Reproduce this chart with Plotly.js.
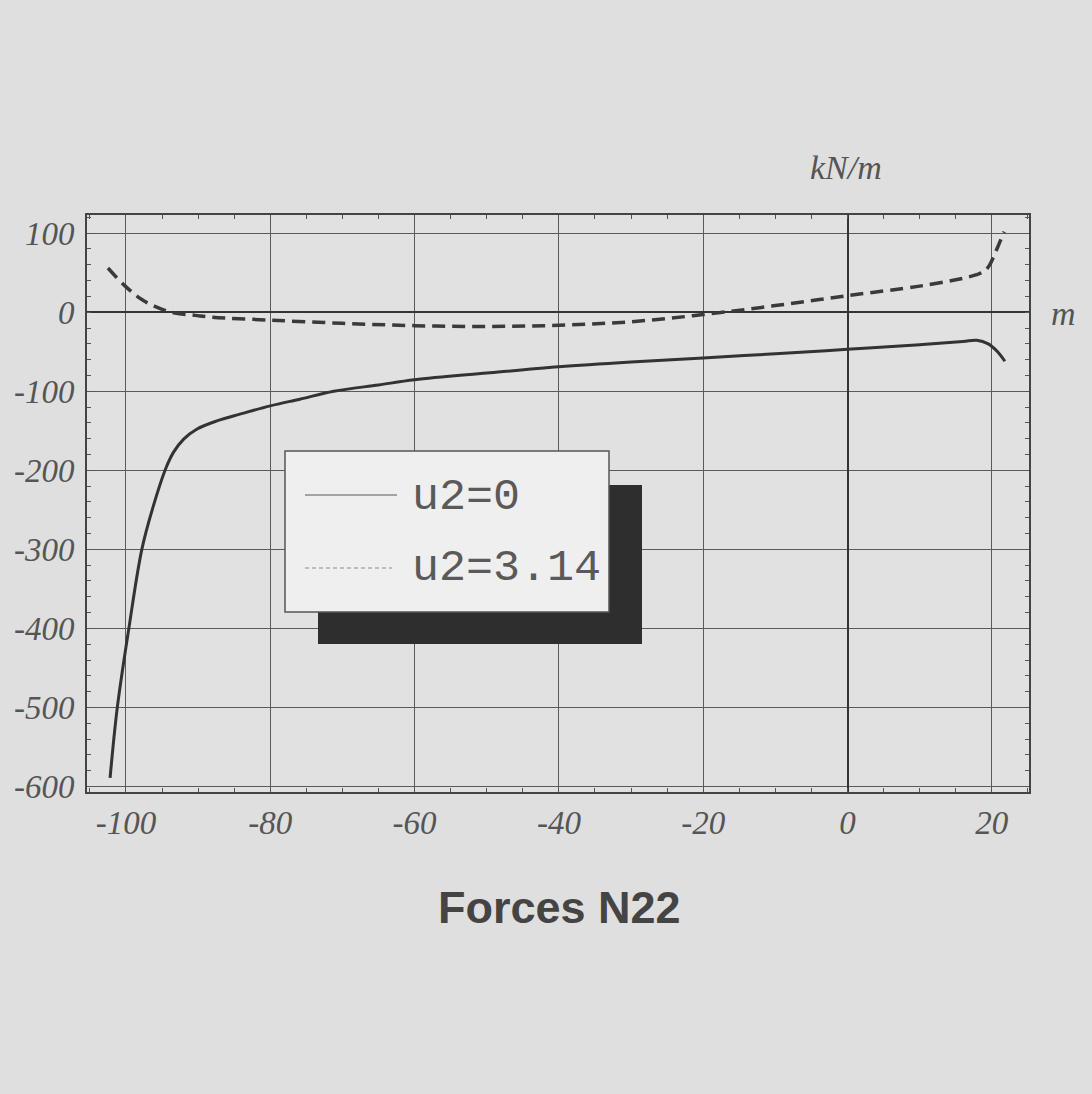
<!DOCTYPE html>
<html>
<head>
<meta charset="utf-8">
<script src="https://cdn.plot.ly/plotly-3.0.1.min.js"></script>
<style>
html,body{margin:0;padding:0;background:#dfdfdf;}
#chart{width:1092px;height:1094px;}
</style>
</head>
<body>
<div id="chart"></div>
<script>
// Series u2=0 (solid)
const xSolid = [-102.2, -101.2, -99.6, -97.8, -96.2, -94.5, -93.4, -92.0, -90.2, -87.4, -84.2, -80, -75.9, -71.2, -65, -60, -50, -40, -30, -20, -10, 0, 10, 16, 17.9, 19.5, 20.8, 21.8];
const ySolid = [-589, -500, -400, -300, -245, -198, -177, -160.5, -148, -137.5, -129, -118.5, -110, -100, -92, -85.5, -77, -69, -63, -58, -52.5, -47, -41, -37, -35.5, -40, -50, -62];
// Series u2=3.14 (dashed)
const xDash = [-102.5, -100.1, -97.8, -95.5, -93.2, -90.4, -88.1, -80, -70, -60, -50, -40, -30, -20, -10, 0, 10, 15, 17.9, 19.0, 19.7, 20.7, 21.7];
const yDash = [56, 33, 16, 5.5, -1, -4, -6.3, -10, -14, -17, -18, -16.5, -12, -3, 8.4, 21, 33, 41, 47.5, 52, 60, 80, 102];
// Tick values and labels
const xTicks = [-100, -80, -60, -40, -20, 0, 20];
const yTicks = [-600, -500, -400, -300, -200, -100, 0, 100];
const seriesNames = ["u2=0", "u2=3.14"];
const titleText = "Forces N22";
const yUnit = "kN/m";
const xUnit = "m";

const W = 1092, H = 1094;
const M = {l: 87, r: 63, t: 215, b: 302};
const pw = W - M.l - M.r, ph = H - M.t - M.b;
const px = v => (v - M.l) / pw;           // pixel x -> paper
const py = v => (H - M.b - v) / ph;       // pixel y -> paper

const tickFont = {family: "Liberation Serif", size: 33, color: "#555", style: "italic"};

const traces = [
  {x: xSolid, y: ySolid, name: seriesNames[0], mode: "lines", line: {color: "#333", width: 3, shape: "spline", smoothing: 1}},
  {x: xDash, y: yDash, name: seriesNames[1], mode: "lines", line: {color: "#3a3a3a", width: 3.5, dash: "13px,7px", shape: "spline", smoothing: 1}}
];

const layout = {
  width: W, height: H,
  margin: M,
  paper_bgcolor: "#dfdfdf",
  plot_bgcolor: "#e1e1e1",
  showlegend: false,
  xaxis: {
    range: [-105.4, 25.15], tickvals: xTicks, ticktext: xTicks.map(String),
    showgrid: true, gridcolor: "#5a5a5a", gridwidth: 1,
    zeroline: true, zerolinecolor: "#333", zerolinewidth: 2,
    showline: true, linecolor: "#444", linewidth: 2, mirror: "allticks",
    ticks: "", tickfont: tickFont, ticklabelstandoff: 0,
    minor: {ticks: "inside", ticklen: 4, tickcolor: "#555", dtick: 5, showgrid: false},
    fixedrange: true
  },
  yaxis: {
    range: [-607, 123], tickvals: yTicks, ticktext: yTicks.map(String),
    showgrid: true, gridcolor: "#5a5a5a", gridwidth: 1,
    zeroline: true, zerolinecolor: "#333", zerolinewidth: 2,
    showline: true, linecolor: "#444", linewidth: 2, mirror: "allticks",
    ticks: "", tickfont: tickFont, ticklabelstandoff: 4,
    minor: {ticks: "inside", ticklen: 4, tickcolor: "#555", dtick: 20, showgrid: false},
    fixedrange: true
  },
  shapes: [
    {type: "rect", xref: "paper", yref: "paper", x0: px(318), x1: px(642), y0: py(485), y1: py(644), fillcolor: "#2e2e2e", line: {width: 0}, layer: "above"},
    {type: "rect", xref: "paper", yref: "paper", x0: px(285), x1: px(609), y0: py(451), y1: py(612), fillcolor: "#efefef", line: {color: "#555", width: 1.5}, layer: "above"},
    {type: "line", xref: "paper", yref: "paper", x0: px(305), x1: px(397), y0: py(495), y1: py(495), line: {color: "#8a8a8a", width: 1.5}, layer: "above"},
    {type: "line", xref: "paper", yref: "paper", x0: px(305), x1: px(392), y0: py(568), y1: py(568), line: {color: "#8a8a8a", width: 1.2, dash: "4px,3px"}, layer: "above"}
  ],
  annotations: [
    {text: seriesNames[0], xref: "paper", yref: "paper", x: px(410), y: py(497), xanchor: "left", yanchor: "middle", showarrow: false, font: {family: "Liberation Mono", size: 45, color: "#5a5a5a"}},
    {text: seriesNames[1], xref: "paper", yref: "paper", x: px(410), y: py(568), xanchor: "left", yanchor: "middle", showarrow: false, font: {family: "Liberation Mono", size: 45, color: "#5a5a5a"}},
    {text: yUnit, xref: "paper", yref: "paper", x: px(846), y: py(167), xanchor: "center", yanchor: "middle", showarrow: false, font: {family: "Liberation Serif", size: 34, color: "#555", style: "italic"}},
    {text: xUnit, xref: "paper", yref: "paper", x: px(1063), y: py(313), xanchor: "center", yanchor: "middle", showarrow: false, font: {family: "Liberation Serif", size: 34, color: "#555", style: "italic"}},
    {text: "<b>" + titleText + "</b>", xref: "paper", yref: "paper", x: px(559), y: py(907), xanchor: "center", yanchor: "middle", showarrow: false, font: {family: "Liberation Sans", size: 45, color: "#444"}}
  ]
};

Plotly.newPlot("chart", traces, layout, {displayModeBar: false, staticPlot: true});
</script>
</body>
</html>
